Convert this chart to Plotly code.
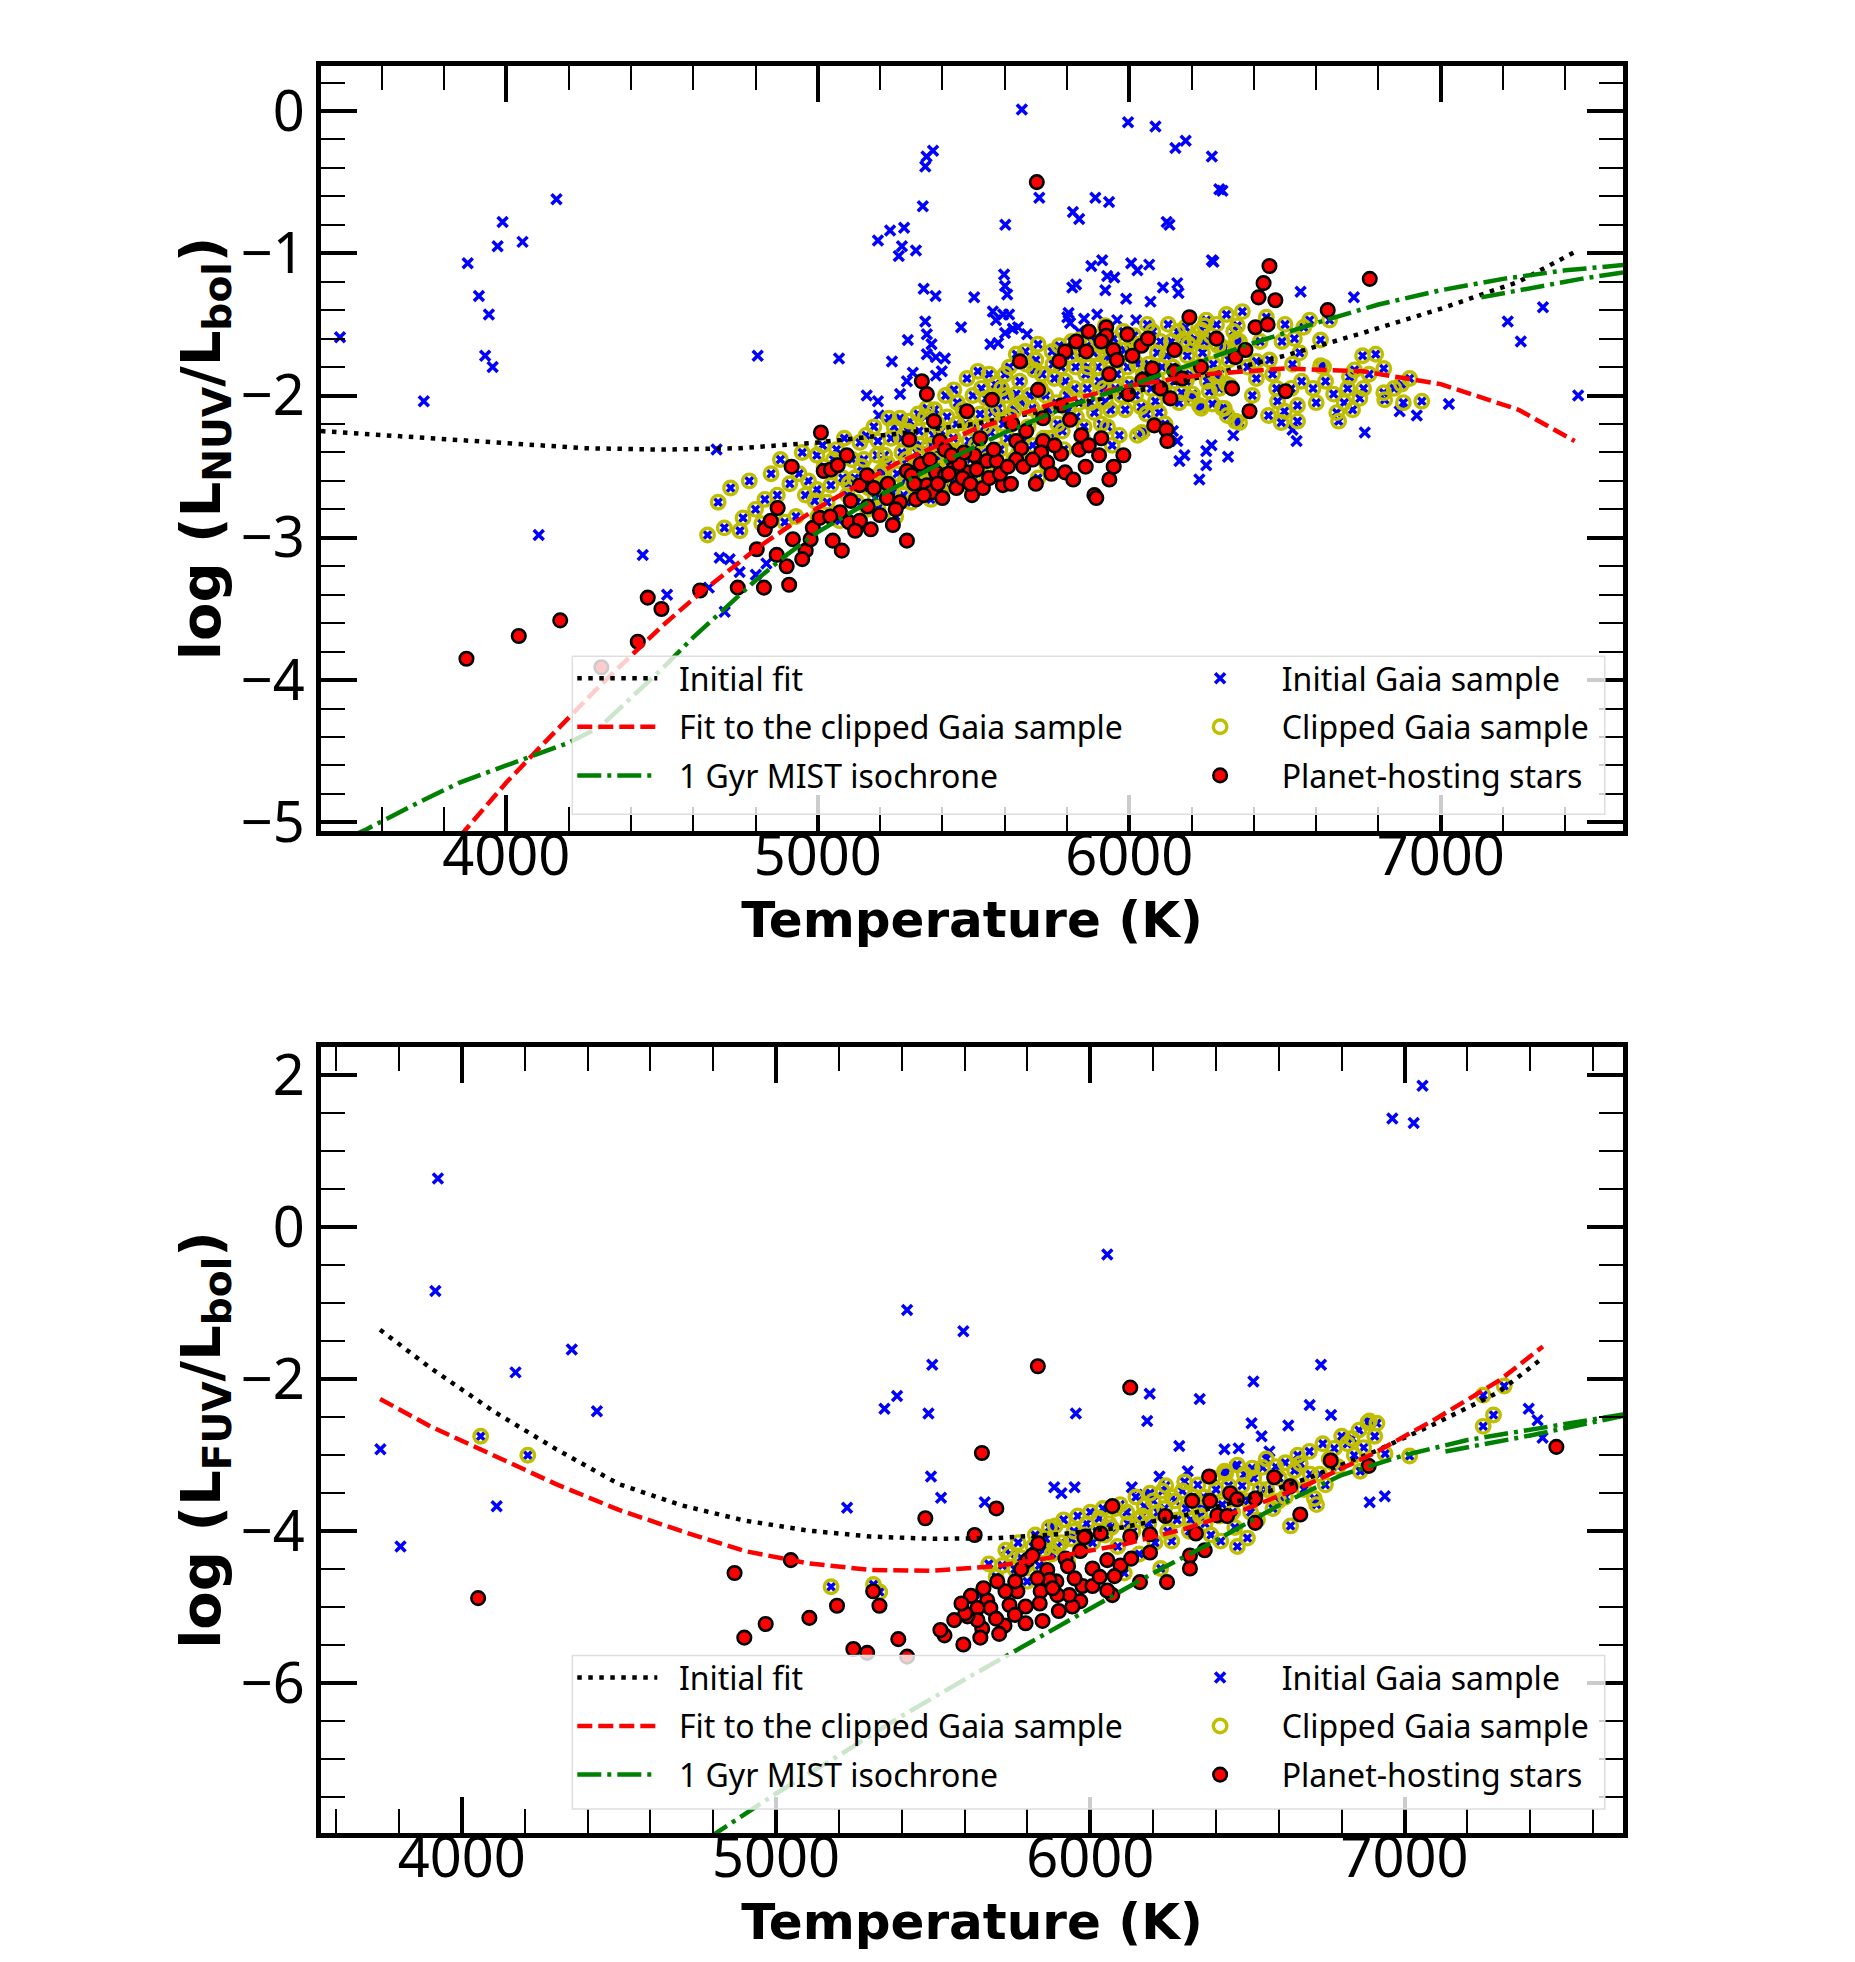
import plotly.graph_objects as go

# ---------------- top panel: log(L_NUV / L_bol) ----------------
nuv_fit_init_t = [3405, 3750, 4000, 4250, 4500, 4750, 5000, 5250, 5500, 5750, 6000, 6250, 6500, 6750, 7000, 7250, 7440]
nuv_fit_init_v = [-2.25, -2.30, -2.34, -2.37, -2.38, -2.37, -2.33, -2.27, -2.20, -2.10, -1.98, -1.86, -1.72, -1.56, -1.39, -1.20, -0.98]

nuv_fit_clip_t = [3850, 4000, 4100, 4200, 4300, 4400, 4500, 4600, 4700, 4800, 4900, 5000, 5250, 5500, 5750, 6000, 6250, 6500, 6750, 7000, 7250, 7430]
nuv_fit_clip_v = [-5.10, -4.72, -4.49, -4.26, -4.04, -3.83, -3.62, -3.43, -3.25, -3.08, -2.93, -2.79, -2.48, -2.24, -2.06, -1.93, -1.85, -1.81, -1.83, -1.92, -2.10, -2.32]

# isochrone, second (turn-off) branch separated by None
nuv_mist_t = [3500, 3550, 3700, 3850, 4000, 4100, 4200, 4300, 4400, 4500, 4600, 4700, 4800, 4900, 5000, 5200,
              5400, 5600, 5800, 6000, 6200, 6400, 6600, 6800, 7000, 7200, 7400, 7600, None, 7130, 7300, 7450, 7600]
nuv_mist_v = [-5.10, -5.05, -4.88, -4.72, -4.60, -4.52, -4.44, -4.33, -4.13, -3.92, -3.70, -3.50, -3.30, -3.12, -2.96, -2.70,
              -2.47, -2.26, -2.08, -1.93, -1.78, -1.63, -1.49, -1.36, -1.26, -1.18, -1.12, -1.08, None, -1.31, -1.24, -1.18, -1.13]

# Gaia stars rejected by the clipping (blue crosses only)
nuv_rejected = [
    (3466, -1.59), (3735, -2.04), (3876, -1.07), (3912, -1.30), (3944, -1.43), (3932, -1.72), (3956, -1.80),
    (3972, -0.95), (3988, -0.78), (4052, -0.92), (4161, -0.62), (4104, -2.98), (4438, -3.12), (4516, -3.40),
    (4650, -3.35), (4675, -2.38), (4685, -3.14), (4701, -3.52), (4717, -3.15), (4749, -3.24), (4801, -3.26),
    (4807, -1.72), (4835, -3.18), (5068, -1.74), (5157, -2.00), (5193, -0.91), (5232, -0.84),
    (5277, -0.82), (5270, -0.95), (5315, -0.98), (5260, -1.02), (5337, -0.67), (5340, -1.25), (5349, -0.32),
    (5345, -0.39), (5370, -0.28), (5378, -1.30), (5289, -1.61), (5345, -1.48), (5365, -1.64), (5350, -1.57),
    (5350, -1.71), (5379, -1.73), (5408, -1.74), (5379, -1.86), (5305, -1.84), (5286, -1.90), (5238, -1.76),
    (5193, -2.04), (5264, -1.99), (5196, -2.14), (5398, -1.83), (5460, -1.52), (5502, -1.31), (5602, -0.80),
    (5655, 0.01), (5711, -0.61), (5598, -1.15), (5601, -1.23), (5608, -1.29), (5562, -1.41), (5614, -1.43),
    (5626, -1.53), (5554, -1.64), (5572, -1.47), (5595, -1.43), (5579, -1.63), (5601, -1.56), (5643, -1.52),
    (5672, -1.57), (5819, -0.71), (5839, -0.76), (5891, -0.61), (5935, -0.64), (5996, -0.08), (6084, -0.11),
    (6148, -0.26), (6181, -0.21), (6265, -0.32), (6289, -0.55), (6120, -0.78), (6129, -0.80), (6299, -0.56),
    (6265, -1.05), (5817, -1.24), (5829, -1.22), (5805, -1.42), (5855, -1.46), (5801, -1.45), (5810, -1.49),
    (5839, -1.55), (5878, -1.09), (5913, -1.05), (5929, -1.16), (5952, -1.17), (5923, -1.26), (5990, -1.32),
    (6006, -1.07), (6026, -1.12), (6064, -1.08), (6068, -1.34), (6022, -1.47), (5897, -1.43), (5961, -1.47),
    (6108, -1.24), (6154, -1.21), (6158, -1.28), (6270, -1.06), (6550, -1.27), (6721, -1.31),
    (7215, -1.48), (7328, -1.38), (7257, -1.62), (7441, -2.00), (7026, -2.06), (6923, -2.14), (6868, -2.11),
    (6756, -2.26), (6524, -2.24), (6537, -2.32), (6334, -2.28), (6154, -2.32), (6177, -2.42), (6161, -2.46),
    (6247, -2.39), (6264, -2.35), (6247, -2.49), (6225, -2.59), (6317, -2.43), (6140, -2.25), (6048, -2.25),
]

# Gaia stars kept after clipping (yellow rings, also in the initial sample)
nuv_clipped = [
    (4646, -2.98), (4700, -2.93), (4760, -2.86), (4800, -2.80), (4830, -2.73), (4894, -2.89), (4910, -2.62),
    (4940, -2.55), (4960, -2.70), (4990, -2.74), (4997, -2.42), (4997, -2.66), (5020, -2.50), (5042, -2.63),
    (5060, -2.38), (5080, -2.58), (5095, -2.70), (5110, -2.45), (5119, -2.58), (5135, -2.33), (5148, -2.45),
    (5160, -2.80), (5164, -2.65), (5180, -2.22), (5193, -2.32), (5193, -2.79), (5200, -2.55), (5206, -2.53),
    (5215, -2.42), (5228, -2.16), (5235, -2.30), (5240, -2.68), (5250, -2.85), (5264, -2.16), (5270, -2.40),
    (5280, -2.60), (5290, -2.25), (5300, -2.75), (5310, -2.50), (5322, -2.13), (5330, -2.35), (5340, -2.62),
    (5350, -2.09), (5355, -2.45), (5363, -2.73), (5370, -2.28), (5379, -2.46), (5385, -2.20), (5392, -2.70),
    (5398, -2.55), (5410, -2.00), (5420, -2.38), (5430, -2.62), (5437, -1.96), (5445, -2.20), (5455, -2.48),
    (5465, -2.10), (5479, -1.88), (5485, -2.32), (5495, -2.23), (5500, -2.58), (5514, -1.83), (5521, -2.13),
    (5530, -2.40), (5540, -2.02), (5550, -1.85), (5555, -2.26), (5565, -2.52), (5579, -2.09), (5579, -2.53),
    (5590, -1.95), (5601, -1.85), (5610, -2.30), (5620, -2.15), (5637, -1.71), (5637, -1.99), (5645, -2.40),
    (5655, -2.05), (5666, -1.69), (5675, -2.22), (5688, -2.09), (5695, -1.82), (5707, -1.64), (5707, -2.58),
    (5715, -1.95), (5725, -2.30), (5736, -2.49), (5740, -2.10), (5752, -1.69), (5760, -1.88), (5770, -2.20),
    (5781, -1.80), (5790, -2.38), (5800, -2.00), (5810, -1.72), (5823, -1.95), (5830, -2.15), (5839, -1.61),
    (5850, -2.30), (5860, -1.85), (5868, -1.80), (5875, -2.05), (5885, -1.70), (5894, -1.59), (5903, -1.90),
    (5910, -2.20), (5923, -1.51), (5923, -2.04), (5930, -2.22), (5935, -1.75), (5945, -2.35), (5955, -1.95),
    (5968, -2.28), (5981, -1.55), (5987, -2.10), (5995, -1.80), (6010, -1.65), (6020, -2.00), (6026, -2.28),
    (6032, -1.64), (6040, -2.26), (6045, -1.85), (6055, -2.13), (6058, -1.50), (6070, -1.95), (6084, -2.04),
    (6090, -1.70), (6096, -2.12), (6105, -1.80), (6115, -2.20), (6125, -1.50), (6135, -1.62), (6145, -1.90),
    (6160, -2.05), (6174, -1.61), (6183, -1.90), (6186, -1.72), (6190, -1.64), (6199, -2.02), (6203, -1.99),
    (6225, -2.07), (6231, -1.54), (6231, -2.09), (6241, -1.51), (6241, -1.62), (6247, -1.47), (6257, -1.97),
    (6267, -2.06), (6277, -1.86), (6280, -1.50), (6289, -1.95), (6299, -1.66), (6299, -2.09), (6305, -1.67),
    (6305, -2.09), (6312, -1.43), (6312, -1.92), (6315, -2.14), (6322, -1.93), (6341, -2.18), (6344, -1.61),
    (6347, -1.51), (6354, -1.62), (6354, -2.19), (6363, -1.41), (6395, -2.00), (6408, -1.76), (6408, -1.88),
    (6440, -1.45), (6447, -2.14), (6450, -1.75), (6473, -1.95), (6476, -2.04), (6488, -2.19), (6498, -2.11),
    (6500, -1.50), (6524, -1.78), (6540, -2.07), (6540, -2.18), (6547, -1.70), (6553, -1.90), (6560, -1.52),
    (6579, -1.47), (6614, -1.61), (6614, -1.79), (6624, -1.80), (6643, -1.47), (6656, -1.99), (6666, -2.12),
    (6672, -2.18), (6701, -1.95), (6707, -1.87), (6717, -2.10), (6723, -1.82), (6749, -1.72), (6752, -1.95),
    (6791, -1.71), (6817, -1.81), (6817, -1.98), (6820, -2.03), (6874, -1.92), (6939, -2.04),
    # dense core of the clipped sample
    (4680, -2.75), (4720, -2.65), (4750, -2.95), (4780, -2.60), (4820, -2.90), (4850, -2.55), (4870, -2.70),
    (4880, -2.45), (4930, -2.85), (4950, -2.40), (4970, -2.60), (5000, -2.85), (5015, -2.35), (5030, -2.75),
    (5050, -2.45), (5070, -2.88), (5085, -2.30), (5100, -2.62), (5125, -2.75), (5140, -2.50), (5155, -2.28),
    (5175, -2.58), (5185, -2.72), (5190, -2.42), (5210, -2.62), (5225, -2.48), (5245, -2.22), (5255, -2.55),
    (5268, -2.30), (5275, -2.70), (5285, -2.45), (5295, -2.18), (5305, -2.62), (5318, -2.40), (5325, -2.25),
    (5335, -2.52), (5345, -2.15), (5358, -2.35), (5365, -2.60), (5375, -2.10), (5388, -2.42), (5395, -2.25),
    (5405, -2.65), (5415, -2.15), (5425, -2.50), (5435, -2.30), (5448, -2.05), (5458, -2.40), (5468, -2.62),
    (5475, -2.20), (5490, -2.45), (5498, -2.00), (5508, -2.35), (5518, -2.55), (5525, -1.95), (5535, -2.22),
    (5545, -2.45), (5560, -2.12), (5570, -1.92), (5585, -2.38), (5595, -2.20), (5605, -2.00), (5615, -1.80),
    (5628, -2.45), (5632, -2.10), (5648, -1.90), (5660, -2.30), (5670, -1.78), (5680, -2.00), (5690, -2.35),
    (5700, -1.75), (5712, -2.15), (5720, -1.85), (5732, -2.00), (5745, -2.30), (5755, -1.78), (5765, -2.05),
    (5775, -1.65), (5785, -2.25), (5795, -1.90), (5805, -2.10), (5815, -1.62), (5828, -1.80), (5838, -2.05),
    (5848, -1.70), (5855, -2.22), (5865, -1.95), (5878, -1.62), (5888, -2.12), (5898, -1.80), (5908, -1.65),
    (5918, -1.95), (5928, -1.72), (5940, -2.10), (5950, -1.60), (5960, -1.85), (5975, -2.00), (5985, -1.68),
    (6000, -1.92), (6015, -1.58), (6025, -1.78), (6038, -2.08), (6050, -1.62), (6062, -1.78), (6075, -1.55),
    (6088, -1.88), (6100, -1.62), (6112, -1.98), (6120, -1.72), (6140, -1.80), (6155, -1.55), (6168, -1.98),
    (6180, -1.52), (6195, -1.85), (6210, -1.60), (6220, -1.80), (6235, -1.70), (6250, -1.90), (6262, -1.58),
    (6270, -1.78), (6285, -1.65), (6290, -1.85), (6320, -1.75), (6335, -1.55), (6380, -1.80), (6420, -1.62),
    (6460, -1.85), (6490, -1.62), (6520, -1.95), (6530, -1.60), (6590, -1.95), (6600, -2.05), (6630, -1.90),
    (6690, -2.05), (6740, -2.02), (6770, -1.85), (6850, -1.95), (6880, -2.05), (6900, -1.88),
]

# planet-hosting stars (red dots)
nuv_hosts = [
    (3872, -3.85), (4040, -3.69), (4173, -3.58), (4305, -3.91), (4422, -3.73), (4454, -3.42), (4498, -3.50),
    (4622, -3.37), (4743, -3.35), (4827, -3.35), (4908, -3.33), (4804, -3.08), (4830, -2.94), (4849, -2.88),
    (4871, -2.79), (4916, -2.50), (5010, -2.26), (4868, -3.12), (4920, -3.01), (4961, -3.09), (4977, -3.01),
    (4984, -2.93), (5006, -2.86), (5048, -3.02), (5077, -3.09), (5071, -2.82), (5100, -2.89), (5106, -2.74),
    (5135, -2.88), (5135, -2.63), (5158, -2.56), (5170, -2.94), (5199, -2.84), (5222, -2.72), (5241, -2.91),
    (5264, -2.75), (5286, -3.02), (5315, -2.73), (5286, -2.53), (5293, -2.31), (5019, -2.53), (5042, -2.52),
    (5064, -2.49), (5093, -2.42), (5350, -2.63), (5373, -2.18), (5379, -2.54), (5392, -2.32), (5408, -2.38),
    (5408, -2.56), (5437, -2.51), (5479, -2.54), (5495, -2.70), (5502, -2.42), (5521, -2.30), (5543, -2.46),
    (5559, -2.03), (5479, -2.11), (5334, -1.90), (5350, -1.99), (5301, -2.56), (5365, -2.68), (5454, -2.48),
    (5574, -2.46), (5594, -2.63), (5624, -2.20), (5637, -2.32), (5653, -2.37), (5637, -2.45), (5669, -2.25),
    (5649, -1.76), (5707, -1.96), (5703, -0.50), (5723, -2.16), (5723, -2.32), (5717, -2.40), (5736, -2.47),
    (5781, -2.07), (5781, -2.41), (5794, -2.54), (5794, -1.69), (5775, -1.76), (5810, -2.17), (5820, -2.59),
    (5839, -2.38), (5846, -2.28), (5862, -1.69), (5888, -2.70), (5894, -2.72), (5903, -2.42), (5926, -1.52),
    (5926, -1.58), (5936, -2.59), (5936, -1.85), (5949, -1.68), (5981, -2.42), (5994, -1.57), (5997, -1.99),
    (6039, -1.65), (6042, -1.89), (6074, -1.81), (6080, -2.21), (6119, -2.24), (6122, -2.32), (6132, -2.02),
    (6145, -1.68), (6145, -1.83), (6193, -1.45), (6341, -1.73), (6373, -1.68), (6386, -2.11), (6405, -1.52),
    (6415, -1.31), (6431, -1.21), (6444, -1.50), (6450, -1.09), (6469, -1.33), (6502, -1.97), (6637, -1.40),
    (6772, -1.18),
    (5310, -2.62), (5330, -2.48), (5340, -2.70), (5360, -2.45), (5385, -2.62), (5400, -2.72), (5420, -2.55),
    (5430, -2.42), (5445, -2.65), (5465, -2.58), (5470, -2.40), (5490, -2.62), (5510, -2.52), (5530, -2.65),
    (5550, -2.58), (5565, -2.38), (5585, -2.55), (5610, -2.50), (5620, -2.62), (5660, -2.50), (5690, -2.45),
    (5700, -2.62), (5750, -2.55), (5760, -2.35), (5860, -2.50), (5870, -2.35), (5910, -2.30), (5950, -2.50),
    (5225, -2.62), (5250, -2.80), (5160, -2.78), (5120, -2.95), (5180, -2.65), (5040, -2.85), (4900, -3.20),
    (4950, -3.15), (5830, -1.62), (5870, -1.55), (5910, -1.62), (5960, -1.75), (6010, -1.72), (6060, -1.60),
    (6100, -1.95), (6170, -1.88), (6230, -1.80), (6280, -1.60), (6330, -1.95),
]

# ---------------- bottom panel: log(L_FUV / L_bol) ----------------
fuv_fit_init_t = [3740, 3900, 4100, 4300, 4500, 4700, 4900, 5100, 5300, 5500, 5700, 5900, 6100, 6300, 6500, 6700, 6900, 7100, 7300, 7440]
fuv_fit_init_v = [-1.35, -1.85, -2.42, -2.92, -3.38, -3.66, -3.86, -3.99, -4.07, -4.10, -4.09, -4.04, -3.95, -3.79, -3.57, -3.29, -2.96, -2.58, -2.17, -1.72]

fuv_fit_clip_t = [3740, 3900, 4100, 4300, 4500, 4700, 4900, 5100, 5300, 5500, 5700, 5900, 6100, 6300, 6500, 6700, 6900, 7100, 7300, 7440]
fuv_fit_clip_v = [-2.26, -2.62, -3.00, -3.38, -3.72, -4.00, -4.26, -4.42, -4.51, -4.52, -4.46, -4.33, -4.18, -3.97, -3.70, -3.37, -2.98, -2.52, -2.02, -1.57]

fuv_mist_t = [4780, 5000, 5200, 5400, 5600, 5800, 6000, 6200, 6400, 6600, 6800, 7000, 7200, 7400, 7600, 7700,
              None, 7130, 7400, 7700]
fuv_mist_v = [-8.05, -7.45, -6.95, -6.43, -5.95, -5.48, -5.02, -4.55, -4.12, -3.66, -3.26, -3.00, -2.80, -2.67, -2.54, -2.46,
              None, -2.95, -2.74, -2.48]

fuv_rejected = [
    (3741, -2.92), (3805, -4.20), (3924, 0.64), (3916, -0.84), (4111, -3.67), (4171, -1.91), (4350, -1.61),
    (4430, -2.42), (5226, -3.69), (5345, -2.39), (5385, -2.22), (5417, -1.09), (5485, -2.45), (5497, -1.81),
    (5493, -3.28), (5525, -3.56), (5596, -1.37), (5664, -3.62), (5885, -3.42), (5908, -3.50), (5950, -3.42),
    (5954, -2.45), (6054, -0.36), (6132, -3.42), (6172, -3.52), (6189, -2.19), (6181, -2.55), (6220, -3.28),
    (6283, -2.88), (6310, -3.21), (6348, -2.26), (6427, -2.92), (6472, -2.91), (6460, -3.15), (6519, -2.03),
    (6513, -2.58), (6545, -2.75), (6630, -2.61), (6570, -2.95), (6734, -1.81), (6698, -2.34), (6766, -2.47),
    (6961, 1.43), (7029, 1.37), (7057, 1.86), (6889, -3.62), (6937, -3.54), (7395, -2.39), (7423, -2.54),
    (7439, -2.77),
]

fuv_clipped = [
    (4060, -2.75), (4210, -3.00), (5175, -4.73), (5310, -4.70), (5330, -4.80), (5648, -4.84), (5677, -4.43),
    (5700, -4.60), (5731, -4.25), (5760, -4.50), (5780, -4.35), (5799, -4.66), (5818, -4.20), (5838, -4.45),
    (5858, -4.10), (5878, -4.30), (5888, -3.93), (5908, -4.15), (5928, -4.40), (5948, -4.00), (5968, -4.25),
    (5988, -3.90), (6007, -4.15), (6028, -3.83), (6047, -4.05), (6067, -3.95), (6087, -4.20), (6108, -4.55),
    (6116, -3.75), (6136, -4.00), (6156, -4.30), (6172, -3.67), (6186, -3.90), (6206, -4.15), (6224, -4.49),
    (6230, -3.47), (6236, -3.70), (6246, -4.00), (6259, -4.13), (6276, -3.85), (6293, -3.47), (6305, -3.70),
    (6315, -4.00), (6342, -3.39), (6355, -3.65), (6365, -3.90), (6384, -4.05), (6415, -4.13), (6427, -3.21),
    (6431, -3.24), (6444, -3.50), (6453, -3.75), (6468, -4.20), (6468, -3.13), (6483, -3.40), (6500, -4.09),
    (6503, -3.60), (6515, -3.17), (6532, -3.85), (6548, -3.16), (6562, -3.45), (6581, -3.70), (6601, -3.30),
    (6621, -3.55), (6637, -3.93), (6650, -3.20), (6668, -3.11), (6680, -3.45), (6697, -2.95), (6713, -3.57),
    (6730, -3.25), (6748, -3.39), (6760, -3.05), (6776, -2.91), (6788, -3.15), (6818, -2.85), (6833, -2.78),
    (6855, -2.67), (6859, -3.21), (6883, -2.57), (6888, -2.55), (6912, -2.58), (6938, -2.98), (7016, -3.01),
    (7250, -2.21), (7317, -2.09), (7283, -2.47), (7250, -2.62), (6200, -3.60), (6260, -3.55), (6330, -3.55),
    (6400, -3.45), (6080, -3.70), (6150, -3.85), (6350, -3.80), (6420, -3.65), (6520, -3.30), (6590, -3.15),
    (5720, -4.45), (5745, -4.30), (5770, -4.15), (5795, -4.45), (5825, -4.05), (5850, -4.25), (5870, -3.95),
    (5895, -4.20), (5915, -3.85), (5940, -4.10), (5960, -3.80), (5980, -4.05), (6000, -3.75), (6020, -4.00),
    (6040, -3.70), (6060, -3.90), (6095, -3.65), (6120, -3.90), (6145, -3.55), (6165, -3.80), (6190, -3.50),
    (6215, -3.75), (6240, -3.40), (6270, -3.60), (6300, -3.35), (6320, -3.85), (6360, -3.55), (6390, -3.30),
    (6410, -3.80), (6440, -3.40), (6460, -3.95), (6490, -3.25), (6510, -3.75), (6540, -3.45), (6560, -3.05),
    (6600, -3.60), (6620, -3.10), (6640, -3.40), (6660, -3.00), (6700, -3.25), (6720, -3.65), (6740, -2.85),
    (6770, -3.10), (6800, -2.75), (6840, -3.00), (6870, -2.90), (6905, -2.75),
]

fuv_hosts = [
    (4052, -4.88), (4868, -4.55), (4899, -5.40), (4967, -5.22), (5047, -4.38), (5106, -5.14), (5194, -4.98),
    (5246, -5.55), (5290, -5.60), (5309, -4.79), (5329, -4.98), (5389, -5.42), (5417, -5.65), (5596, -5.49),
    (5475, -3.83), (5655, -2.97), (5701, -3.70), (5632, -4.05), (5833, -1.83), (6127, -2.11), (5835, -4.16),
    (6070, -3.67), (6033, -4.03), (5984, -4.07), (5968, -4.26), (5921, -4.36), (6054, -4.38), (6096, -4.45),
    (6127, -4.07), (6130, -4.36), (6190, -4.04), (6190, -4.28), (6239, -3.80), (6324, -3.60), (6378, -3.28),
    (6381, -3.60), (6404, -3.79), (6435, -3.80), (6445, -3.50), (6467, -3.58), (6525, -3.57), (6525, -3.89),
    (6585, -3.29), (6636, -3.41), (6668, -3.78), (6765, -3.07), (6886, -3.14), (6336, -4.03), (6364, -4.25),
    (6317, -4.32), (6317, -4.49), (6244, -4.67), (6158, -4.67), (6070, -4.84), (6054, -4.78), (6077, -4.59),
    (6007, -4.49), (5975, -4.72), (6007, -4.72), (5968, -4.92), (5943, -4.99), (5933, -4.84), (5895, -4.84),
    (5892, -4.66), (5863, -4.51), (5870, -4.64), (5832, -4.62), (5842, -4.79), (5839, -4.95), (5848, -5.18),
    (5794, -4.99), (5794, -5.21), (5768, -4.79), (5761, -4.66), (5730, -4.79), (5743, -4.97), (5727, -5.24),
    (5704, -4.66), (5672, -4.91), (5682, -5.01), (5656, -5.28), (5641, -5.01), (5641, -5.17), (5609, -5.12),
    (5602, -5.08), (5567, -5.17), (5536, -5.37), (5523, -5.30), (5800, -4.38), (5816, -4.32), (5929, -4.46),
    (5981, -4.08), (7483, -2.89),
    (5700, -5.15), (5760, -5.10), (5620, -4.85), (5660, -4.75), (5590, -4.95), (5780, -4.50), (5880, -4.75),
    (5900, -5.05), (5710, -5.35), (5650, -5.40), (5950, -4.62), (6030, -4.60),
]


def unzip(pairs):
    return [p[0] for p in pairs], [p[1] for p in pairs]


BLUE = "rgb(0,0,255)"
YELLOW = "rgb(191,191,0)"
RED = "rgb(255,0,0)"
GREEN = "rgb(0,128,0)"
GAP = "\u00a0\u00a0"  # space between legend symbol and label

fig = go.Figure()


def add_panel(xa, ya, leg_lines, leg_pts, init_t, init_v, clip_t, clip_v, mist_t, mist_v,
              rejected, clipped, hosts):
    rej_t, rej_v = unzip(rejected)
    cl_t, cl_v = unzip(clipped)
    h_t, h_v = unzip(hosts)
    # scatter samples first, fits on top (as in the original)
    fig.add_trace(go.Scatter(
        x=rej_t + cl_t, y=rej_v + cl_v, mode="markers", name=GAP + "Initial Gaia sample",
        marker=dict(symbol="x-thin-open", size=10, color=BLUE, line=dict(width=3.5, color=BLUE)),
        xaxis=xa, yaxis=ya, legend=leg_pts, legendgroup=leg_pts + "a"))
    fig.add_trace(go.Scatter(
        x=cl_t, y=cl_v, mode="markers", name=GAP + "Clipped Gaia sample",
        marker=dict(symbol="circle-open", size=13.5, color=YELLOW, line=dict(width=3.4, color=YELLOW)),
        xaxis=xa, yaxis=ya, legend=leg_pts, legendgroup=leg_pts + "b"))
    fig.add_trace(go.Scatter(
        x=h_t, y=h_v, mode="markers", name=GAP + "Planet-hosting stars",
        marker=dict(symbol="circle", size=13.5, color=RED, line=dict(width=2.6, color="black")),
        xaxis=xa, yaxis=ya, legend=leg_pts, legendgroup=leg_pts + "c"))
    fig.add_trace(go.Scatter(
        x=init_t, y=init_v, mode="lines", name=GAP + "Initial fit",
        line=dict(color="black", width=4.5, dash="4.5px,6.5px"),
        xaxis=xa, yaxis=ya, legend=leg_lines, legendgroup=leg_lines + "a"))
    fig.add_trace(go.Scatter(
        x=clip_t, y=clip_v, mode="lines", name=GAP + "Fit to the clipped Gaia sample",
        line=dict(color=RED, width=4.5, dash="15px,6px"),
        xaxis=xa, yaxis=ya, legend=leg_lines, legendgroup=leg_lines + "b"))
    fig.add_trace(go.Scatter(
        x=mist_t, y=mist_v, mode="lines", name=GAP + "1 Gyr MIST isochrone",
        line=dict(color=GREEN, width=4.5, dash="24px,6px,4px,6px"),
        xaxis=xa, yaxis=ya, legend=leg_lines, legendgroup=leg_lines + "c"))


add_panel("x", "y", "legend", "legend2", nuv_fit_init_t, nuv_fit_init_v, nuv_fit_clip_t, nuv_fit_clip_v,
          nuv_mist_t, nuv_mist_v, nuv_rejected, nuv_clipped, nuv_hosts)
add_panel("x2", "y2", "legend3", "legend4", fuv_fit_init_t, fuv_fit_init_v, fuv_fit_clip_t, fuv_fit_clip_v,
          fuv_mist_t, fuv_mist_v, fuv_rejected, fuv_clipped, fuv_hosts)

TICKFONT = dict(family="Noto Sans", size=56, color="black")
XTITLEFONT = dict(family="DejaVu Sans", size=50, color="black", weight="bold")
YTITLEFONT = dict(family="DejaVu Sans", size=56, color="black", weight="bold")


def axis(**kw):
    d = dict(showline=True, linewidth=5, linecolor="black", mirror="allticks",
             ticks="inside", ticklen=36, tickwidth=3.5, tickcolor="black",
             showgrid=False, zeroline=False, tickfont=TICKFONT,
             minor=dict(ticks="inside", ticklen=24, tickwidth=2, tickcolor="black", showgrid=False))
    d.update(kw)
    return d


def legend_style(x, y):
    return dict(x=x, y=y, xanchor="left", yanchor="top", bgcolor="rgba(0,0,0,0)", borderwidth=0,
                font=dict(family="Noto Sans", size=32, color="black"), traceorder="grouped",
                tracegroupgap=4, itemwidth=80)


fig.update_layout(
    width=1855, height=1962,
    margin=dict(l=313, r=240, t=58, b=137),
    plot_bgcolor="white", paper_bgcolor="white",
    xaxis=axis(domain=[0, 1], anchor="y", range=[3405, 7585], tick0=0, dtick=1000,
               minor_dtick=200, minor_tick0=0, ticklabelstandoff=-28,
               title=dict(text="Temperature (K)", font=XTITLEFONT, standoff=10)),
    yaxis=axis(domain=[0.5671, 1], anchor="x", range=[-5.06, 0.316], tick0=0, dtick=1,
               minor_dtick=0.2, minor_tick0=0,
               title=dict(text="log (L<sub>NUV</sub>/L<sub>bol</sub>)", font=YTITLEFONT, standoff=4)),
    xaxis2=axis(domain=[0, 1], anchor="y2", range=[3552, 7695], tick0=0, dtick=1000,
                minor_dtick=200, minor_tick0=0, ticklabelstandoff=-28,
                title=dict(text="Temperature (K)", font=XTITLEFONT, standoff=10)),
    yaxis2=axis(domain=[0, 0.4448], anchor="x2", range=[-7.97, 2.37], tick0=0, dtick=2,
                minor_dtick=0.5, minor_tick0=0,
                title=dict(text="log (L<sub>FUV</sub>/L<sub>bol</sub>)", font=YTITLEFONT, standoff=4)),
    legend=legend_style(0.193, 0.669),
    legend2=legend_style(0.656, 0.669),
    legend3=legend_style(0.193, 0.1035),
    legend4=legend_style(0.656, 0.1035),
    shapes=[
        dict(type="rect", xref="paper", yref="paper", x0=0.193, x1=0.986, y0=0.5765, y1=0.666,
             line=dict(color="rgb(222,222,222)", width=1.5), fillcolor="rgba(255,255,255,0.8)", layer="above"),
        dict(type="rect", xref="paper", yref="paper", x0=0.193, x1=0.986, y0=0.0136, y1=0.1005,
             line=dict(color="rgb(222,222,222)", width=1.5), fillcolor="rgba(255,255,255,0.8)", layer="above"),
    ],
)

fig.write_html("out.html")
